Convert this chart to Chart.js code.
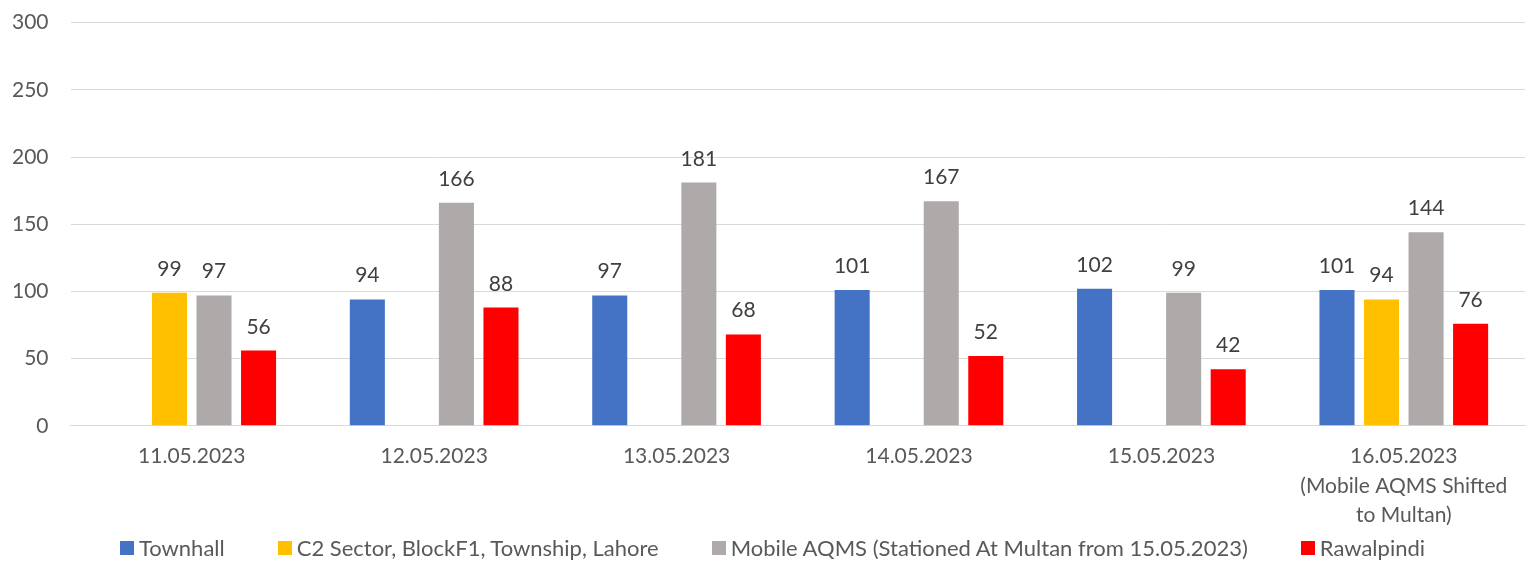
<!DOCTYPE html>
<html>
<head>
<meta charset="utf-8">
<script src="https://cdn.jsdelivr.net/npm/chart.js@4/dist/chart.umd.min.js"></script>
<style>
  html, body { margin: 0; padding: 0; background: #fff; overflow: hidden; }
  #wrap { width: 1530px; height: 558px; position: relative; top: -12px; }
  #legend {
    position: absolute; left: 0; top: 534px;
    display: flex; justify-content: center; gap: 53px;
    width: 1530px; padding-left: 15px; box-sizing: border-box;
    font: 22px Lato, "Open Sans", sans-serif; color: #595959; line-height: 28px;
  }
  #legend span.item { display: flex; align-items: center; white-space: nowrap; }
  #legend i { display: inline-block; width: 14px; height: 14px; margin-right: 5px; }
</style>
</head>
<body>
<div id="wrap"><canvas id="barChart"></canvas></div>
<div id="legend"></div>
<script>
// data
var categories = [
  "11.05.2023",
  "12.05.2023",
  "13.05.2023",
  "14.05.2023",
  "15.05.2023",
  ["16.05.2023", "(Mobile AQMS Shifted", "to Multan)"]
];
var townhall = [null, 94, 97, 101, 102, 101];
var c2Sector = [99, null, null, null, null, 94];
var mobileAqms = [97, 166, 181, 167, 99, 144];
var rawalpindi = [56, 88, 68, 52, 42, 76];
var yTicks = [0, 50, 100, 150, 200, 250, 300];

var textColor = "#595959";
var fontFamily = "Lato, 'Open Sans', sans-serif";

//value labels above bars
var barLabels = {
  id: "barLabels",
  afterDatasetsDraw: function (chart) {
    var ctx = chart.ctx;
    ctx.save();
    ctx.font = "21px " + fontFamily;
    ctx.fillStyle = "#404040";
    ctx.textAlign = "center";
    ctx.textBaseline = "alphabetic";
    chart.data.datasets.forEach(function (ds, i) {
      var meta = chart.getDatasetMeta(i);
      meta.data.forEach(function (bar, j) {
        var v = ds.data[j];
        if (v === null || v === undefined) return;
        ctx.fillText(v, bar.x, bar.y - 17);
      });
    });
    ctx.restore();
  }
};

var ctxB = document.getElementById("barChart").getContext("2d");
var myBarChart = new Chart(ctxB, {
  type: "bar",
  data: {
    labels: categories,
    datasets: [
      { label: "Townhall", data: townhall, backgroundColor: "#4472C4" },
      { label: "C2 Sector, BlockF1, Township, Lahore", data: c2Sector, backgroundColor: "#FFC000" },
      { label: "Mobile AQMS (Stationed At Multan from 15.05.2023)", data: mobileAqms, backgroundColor: "#AEAAAA" },
      { label: "Rawalpindi", data: rawalpindi, backgroundColor: "#FF0000" }
    ]
  },
  options: {
    responsive: true,
    maintainAspectRatio: false,
    animation: false,
    categoryPercentage: 0.735,
    barPercentage: 0.787,
    layout: { padding: { left: -10, right: 5, top: 0, bottom: 0 } },
    plugins: {
      legend: { display: false },
      tooltip: { enabled: false }
    },
    scales: {
      x: {
        grid: { display: false, drawTicks: false },
        border: { color: "#d9d9d9", width: 1 },
        ticks: {
          color: textColor,
          font: { family: fontFamily, size: 21, lineHeight: 1.4 },
          padding: 16,
          maxRotation: 0,
          autoSkip: false
        }
      },
      y: {
        min: 0,
        max: 300,
        afterBuildTicks: function (axis) {
          axis.ticks = yTicks.map(function (v) { return { value: v }; });
        },
        grid: { color: "#d9d9d9", drawTicks: false },
        border: { display: false },
        ticks: {
          color: textColor,
          font: { family: fontFamily, size: 21 },
          padding: 22
        }
      }
    }
  },
  plugins: [barLabels]
});

//html legend
var legendHtml = "";
myBarChart.data.datasets.forEach(function (ds) {
  legendHtml += '<span class="item"><i style="background:' + ds.backgroundColor + '"></i>' + ds.label + "</span>";
});
document.getElementById("legend").innerHTML = legendHtml;
</script>
</body>
</html>
